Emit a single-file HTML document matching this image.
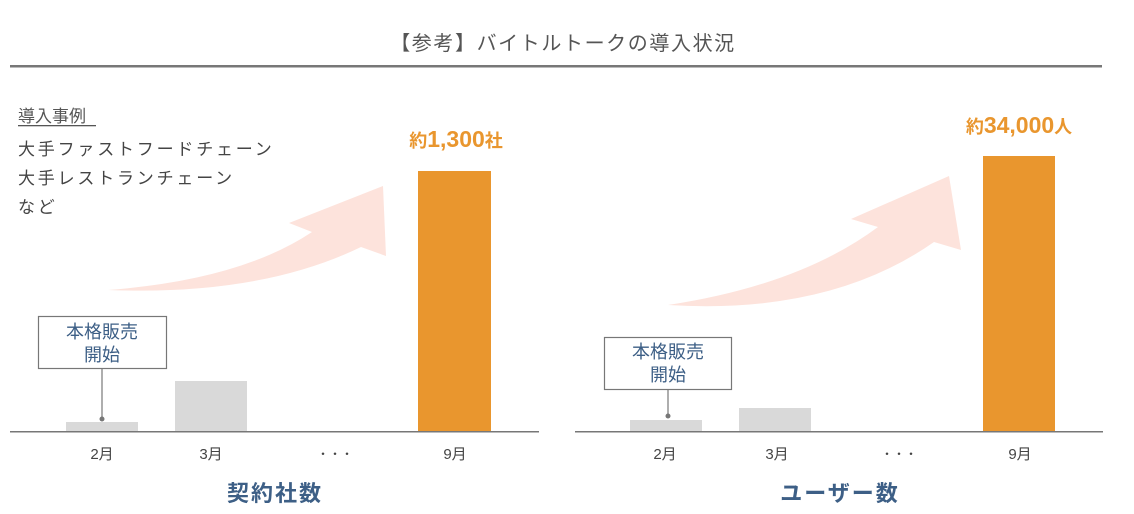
<!DOCTYPE html>
<html><head><meta charset="utf-8"><style>
body{margin:0;background:#fff;width:1134px;height:514px;overflow:hidden}
svg{display:block}
text{font-family:"Liberation Sans","Noto Sans CJK JP",sans-serif}
</style></head><body>
<svg width="1134" height="514" viewBox="0 0 1134 514">
<text x="563" y="50" font-size="20" fill="#555" text-anchor="middle" letter-spacing="1.6">【参考】バイトルトークの導入状況</text>
<rect x="10" y="65" width="1092" height="2.5" fill="#777"/>

<!-- left list -->
<text x="18" y="122" font-size="17" fill="#555">導入事例</text>
<rect x="18" y="125" width="78" height="1.3" fill="#555"/>
<text x="18" y="155" font-size="17" fill="#444" letter-spacing="2.8">大手ファストフードチェーン</text>
<text x="18" y="184" font-size="17" fill="#444" letter-spacing="2.8">大手レストランチェーン</text>
<text x="18" y="213" font-size="17" fill="#444" letter-spacing="2.8">など</text>

<!-- left arrow -->
<path d="M108,290 Q240,280 312,232 L289,223 L383,186 L386,256 L361,247 Q260,296 108,290 Z" fill="#fde3dc"/>
<!-- right arrow -->
<path d="M668,305 Q800,285 878,227 L851,219 L949,176 L961,250 L934,242 Q830,315 668,305 Z" fill="#fde3dc"/>

<!-- left chart -->
<rect x="66" y="422" width="72" height="10" fill="#d9d9d9"/>
<rect x="175" y="381" width="72" height="51" fill="#d9d9d9"/>
<rect x="418" y="171" width="73" height="261" fill="#e9962e"/>
<rect x="10" y="431" width="529" height="1.5" fill="#777"/>
<rect x="38.5" y="316.5" width="128" height="52" fill="#fff" stroke="#777" stroke-width="1.2"/>
<text x="102" y="338" font-size="18" fill="#3d5f86" text-anchor="middle">本格販売</text>
<text x="102" y="361" font-size="18" fill="#3d5f86" text-anchor="middle">開始</text>
<line x1="102" y1="369" x2="102" y2="418" stroke="#777" stroke-width="1.2"/>
<circle cx="102" cy="419" r="2.5" fill="#777"/>
<text x="456" y="147" font-size="23" font-weight="bold" fill="#e9962e" text-anchor="middle"><tspan font-size="18">約</tspan>1,300<tspan font-size="18">社</tspan></text>
<g font-size="15" fill="#444" text-anchor="middle">
<text x="102" y="459">2月</text><text x="211" y="459">3月</text><text x="335" y="458" font-size="12">・・・</text><text x="455" y="459">9月</text>
<text x="665" y="459">2月</text><text x="777" y="459">3月</text><text x="899" y="458" font-size="12">・・・</text><text x="1020" y="459">9月</text>
</g>
<text x="275" y="501" font-size="22" font-weight="bold" fill="#3d5f86" text-anchor="middle" letter-spacing="2">契約社数</text>

<!-- right chart -->
<rect x="630" y="420" width="72" height="12" fill="#d9d9d9"/>
<rect x="739" y="408" width="72" height="24" fill="#d9d9d9"/>
<rect x="983" y="156" width="72" height="276" fill="#e9962e"/>
<rect x="575" y="431" width="528" height="1.5" fill="#777"/>
<rect x="604.5" y="337.5" width="127" height="52" fill="#fff" stroke="#777" stroke-width="1.2"/>
<text x="668" y="358" font-size="18" fill="#3d5f86" text-anchor="middle">本格販売</text>
<text x="668" y="381" font-size="18" fill="#3d5f86" text-anchor="middle">開始</text>
<line x1="668" y1="390" x2="668" y2="415" stroke="#777" stroke-width="1.2"/>
<circle cx="668" cy="416" r="2.5" fill="#777"/>
<text x="1019" y="133" font-size="23" font-weight="bold" fill="#e9962e" text-anchor="middle"><tspan font-size="18">約</tspan>34,000<tspan font-size="18">人</tspan></text>
<text x="840" y="501" font-size="22" font-weight="bold" fill="#3d5f86" text-anchor="middle" letter-spacing="2">ユーザー数</text>
</svg>
</body></html>
